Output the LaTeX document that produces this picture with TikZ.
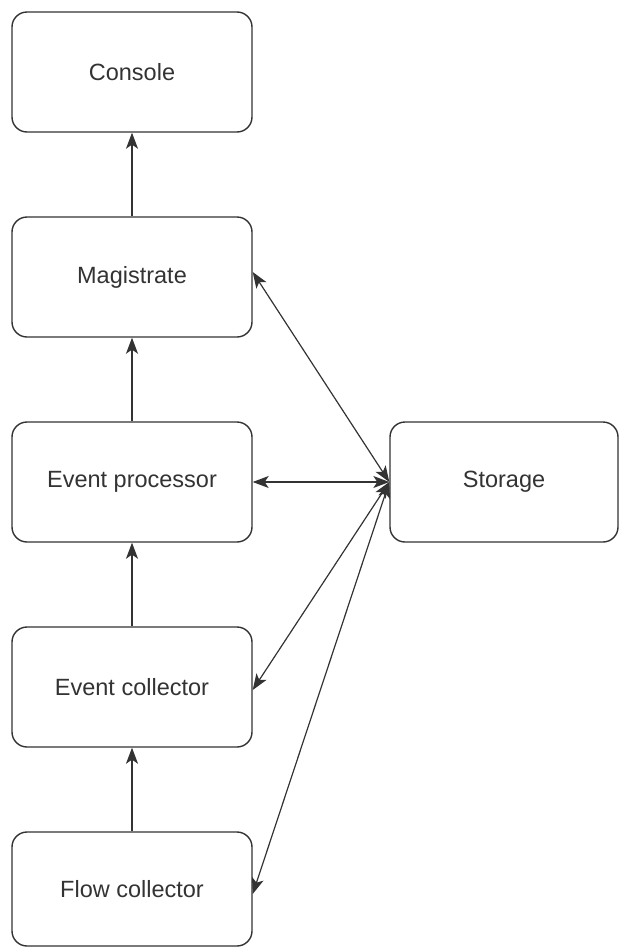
\documentclass[tikz,border=0pt]{standalone}
\usepackage{fontspec}
\setmainfont{Liberation Sans}
\usetikzlibrary{arrows.meta}
\definecolor{linegray}{HTML}{333333}
\definecolor{textgray}{HTML}{333333}
\tikzset{
  box/.style={draw=linegray, line width=1.4pt, rounded corners=15pt, fill=white,
              minimum width=240pt, minimum height=120pt, inner sep=0pt,
              text=textgray, font=\fontsize{23.5}{26}\selectfont},
  flow/.style={draw=linegray, line width=1.4pt,
               -{Stealth[length=16pt,width=12pt,inset=4pt]}},
  link/.style={draw=linegray, line width=1.2pt,
               {Stealth[length=16pt,width=12pt,inset=4pt]}-{Stealth[length=16pt,width=12pt,inset=4pt]}}
}
\begin{document}
\begin{tikzpicture}[x=1pt,y=-1pt]
  \useasboundingbox (0,0) rectangle (619,948);
  % processing chain on the left
  \node[box] (console) at (132,72) {Console};
  \node[box] (magistrate) at (132,277) {Magistrate};
  \node[box] (processor) at (132,482) {Event processor};
  \node[box] (ecollector) at (132,687) {Event collector};
  \node[box, minimum height=114pt] (fcollector) at (132,889) {Flow collector};
  % shared store
  \node[box, minimum width=228pt] (storage) at (504,482) {Storage};
  % upward data flow
  \draw[flow] (magistrate.north) -- (console.south);
  \draw[flow] (processor.north) -- (magistrate.south);
  \draw[flow] (ecollector.north) -- (processor.south);
  \draw[flow] (fcollector.north) -- (ecollector.south);
  % links to storage
  \coordinate (hub) at (storage.west);
  \draw[link] ([yshift=5pt]magistrate.east) -- (hub);
  \draw[link] (processor.east) -- (hub);
  \draw[link] ([yshift=-3pt]ecollector.east) -- (hub);
  \draw[link] ([yshift=-5pt]fcollector.east) -- (hub);
\end{tikzpicture}
\end{document}
